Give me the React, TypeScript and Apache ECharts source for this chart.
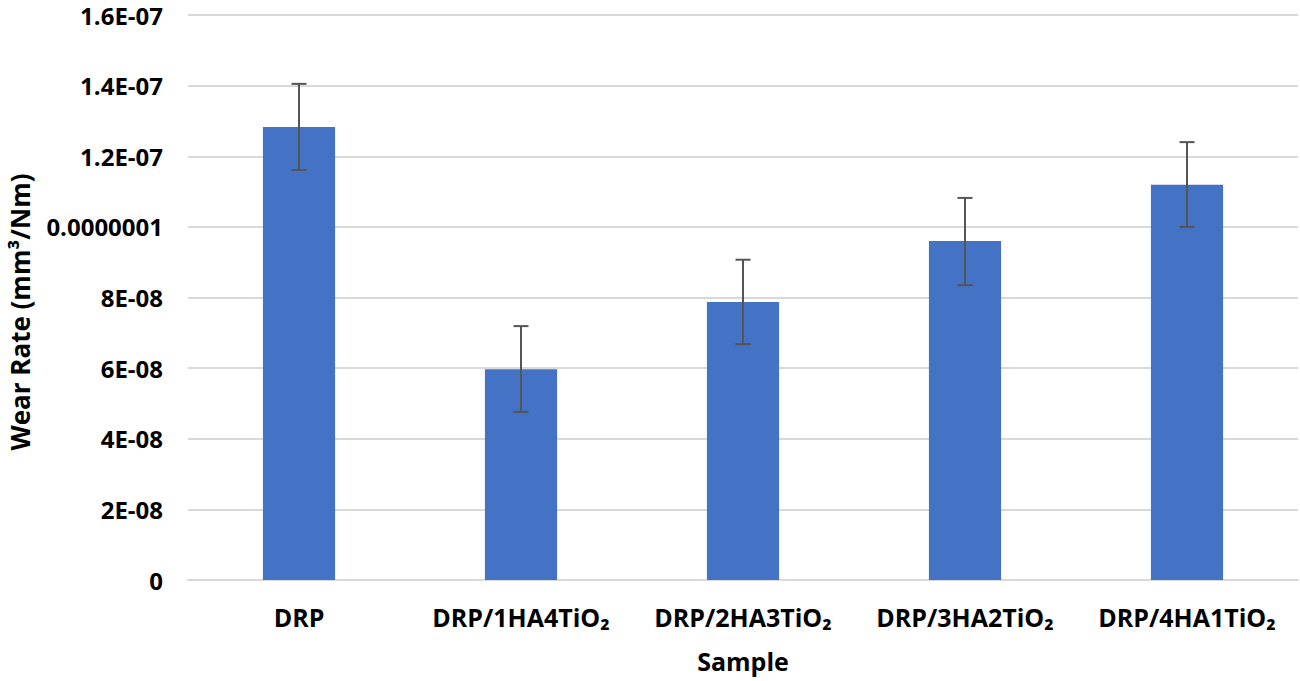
import React, { useEffect, useRef } from "react";
import * as echarts from "echarts";

const categories = ["DRP", "DRP/1HA4TiO₂", "DRP/2HA3TiO₂", "DRP/3HA2TiO₂", "DRP/4HA1TiO₂"];
const wearRate = [1.283e-7, 5.97e-8, 7.87e-8, 9.6e-8, 1.119e-7];
const errLow = [1.161e-7, 4.76e-8, 6.68e-8, 8.35e-8, 1.0e-7];
const errHigh = [1.405e-7, 7.19e-8, 9.07e-8, 1.082e-7, 1.24e-7];
const yTickLabels = ["0", "2E-08", "4E-08", "6E-08", "8E-08", "0.0000001", "1.2E-07", "1.4E-07", "1.6E-07"];
const yTitle = "Wear Rate (mm³/Nm)";
const xTitle = "Sample";

const FONT = "'Open Sans', 'Noto Sans', sans-serif";

export default function App() {
  const ref = useRef<HTMLDivElement>(null);
  useEffect(() => {
    document.body.style.margin = "0";
    const chart = echarts.init(ref.current!, null, { renderer: "svg" });
    const errData = categories.map((_, i) => [i, errLow[i], errHigh[i]]);
    chart.setOption({
      animation: false,
      backgroundColor: "#ffffff",
      grid: { left: 188, right: 2, top: 15, bottom: 101, containLabel: false, outerBoundsMode: "none" },
      graphic: [
        {
          type: "text",
          x: 20,
          y: 312,
          rotation: Math.PI / 2,
          style: {
            text: yTitle,
            fill: "#000",
            font: `bold 26px ${FONT}`,
            align: "center",
            verticalAlign: "middle",
          },
        },
      ],
      xAxis: {
        type: "category",
        data: categories,
        axisLine: { show: true, lineStyle: { color: "#d9d9d9", width: 2 } },
        axisTick: { show: false },
        axisLabel: {
          interval: 0,
          hideOverlap: false,
          color: "#000",
          fontFamily: FONT,
          fontWeight: "bold",
          fontSize: 25,
          margin: 24,
        },
        name: xTitle,
        nameLocation: "middle",
        nameGap: 68,
        nameTextStyle: { color: "#000", fontFamily: FONT, fontWeight: "bold", fontSize: 25 },
      },
      yAxis: {
        type: "value",
        min: 0,
        max: 1.6e-7,
        interval: 2e-8,
        axisLine: { show: false },
        axisTick: { show: false },
        splitLine: { lineStyle: { color: "#d9d9d9", width: 2 } },
        axisLabel: {
          color: "#000",
          fontFamily: FONT,
          fontWeight: "bold",
          fontSize: 24,
          lineHeight: 24,
          margin: 25,
          formatter: (v: number) => {
            const idx = Math.round(v / 2e-8);
            return yTickLabels[idx] ?? "";
          },
        },
      },
      series: [
        {
          type: "bar",
          data: wearRate,
          barWidth: "32.5%",
          itemStyle: { color: "#4472C4" },
        },
        {
          type: "custom",
          data: errData,
          z: 10,
          renderItem: (params: any, api: any) => {
            const x = api.value(0);
            const lo = api.coord([x, api.value(1)]);
            const hi = api.coord([x, api.value(2)]);
            const hw = 7.5;
            const style = { stroke: "#555555", lineWidth: 2 };
            return {
              type: "group",
              children: [
                { type: "line", shape: { x1: hi[0], y1: hi[1], x2: lo[0], y2: lo[1] }, style },
                { type: "line", shape: { x1: hi[0] - hw, y1: hi[1], x2: hi[0] + hw, y2: hi[1] }, style },
                { type: "line", shape: { x1: lo[0] - hw, y1: lo[1], x2: lo[0] + hw, y2: lo[1] }, style },
              ],
            };
          },
        },
      ],
    });
    return () => chart.dispose();
  }, []);
  return <div ref={ref} style={{ width: 1300, height: 681 }} />;
}
